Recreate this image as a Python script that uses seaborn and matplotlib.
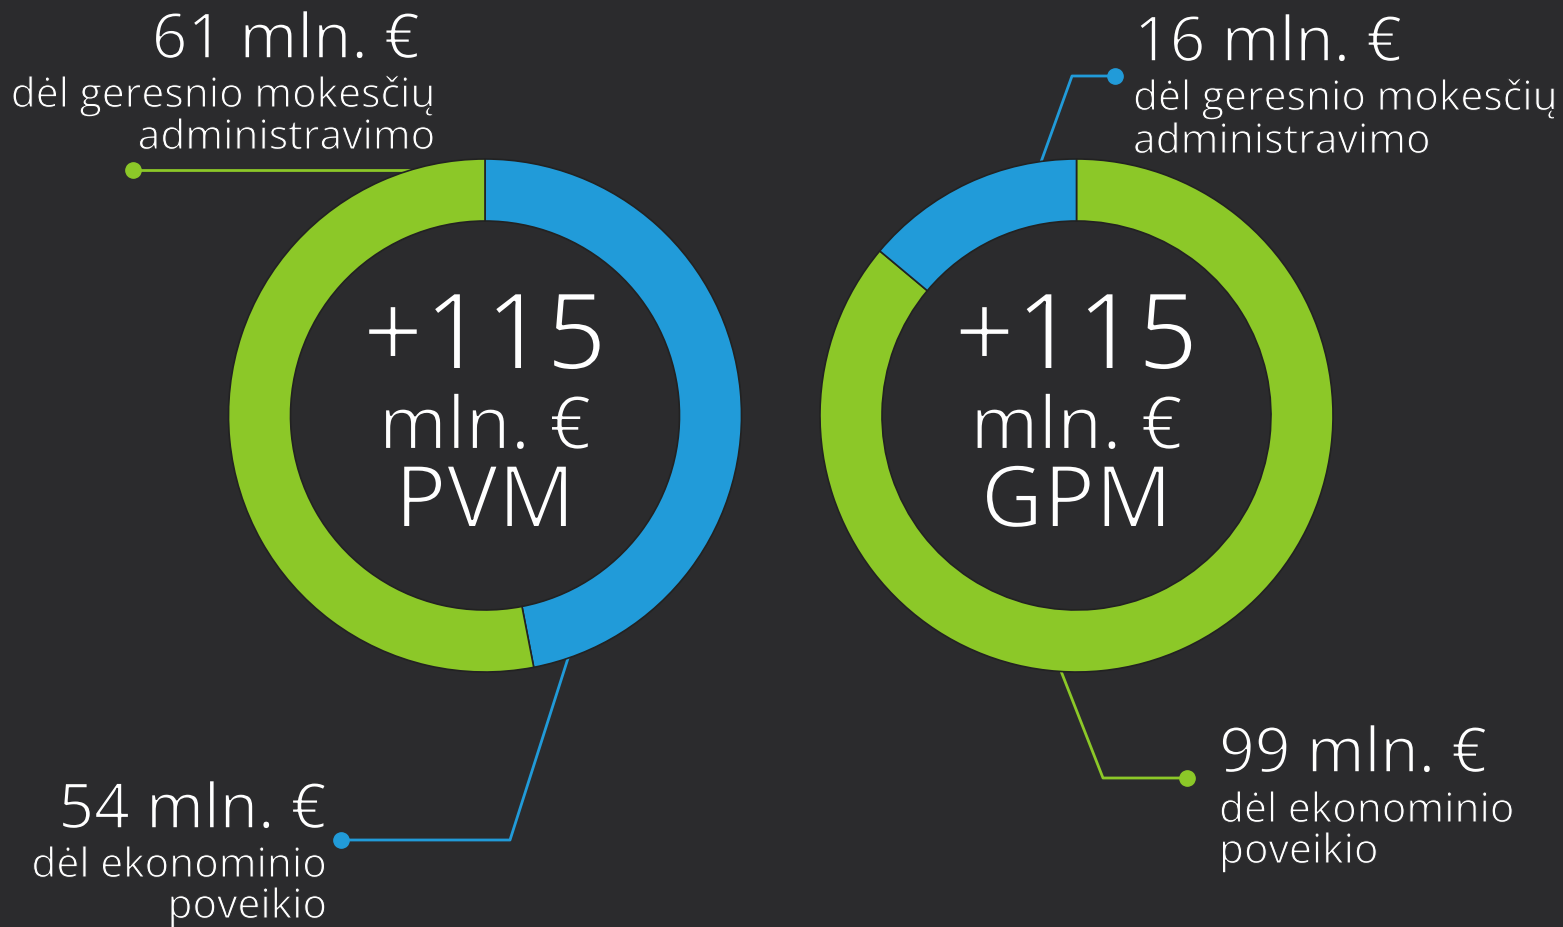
import matplotlib
matplotlib.use('Agg')
import matplotlib.pyplot as plt
import matplotlib.patheffects as pe
import seaborn as sns

# data
taxes = ['PVM', 'GPM']
totals = [115, 115]
admin_part = [61, 16]      # dėl geresnio mokesčių administravimo
econ_part = [54, 99]       # dėl ekonominio poveikio
admin_label = ['dėl geresnio mokesčių', 'administravimo']
econ_label = ['dėl ekonominio', 'poveikio']

BG = '#2b2b2d'
GREEN = '#8cc828'
BLUE = '#219bd9'

sns.set_style('dark', {'axes.facecolor': BG, 'figure.facecolor': BG})
plt.rcParams['font.family'] = ['Open Sans', 'DejaVu Sans']

W, H = 1563, 927
fig = plt.figure(figsize=(W / 100, H / 100), dpi=100)
fig.patch.set_facecolor(BG)

def thin(size):
    # eat into the glyph edges with bg colour -> lighter looking weight
    return [pe.Stroke(linewidth=0.025 * size, foreground=BG)]

# overlay in pixel coords for leader lines + labels
ov = fig.add_axes([0, 0, 1, 1], zorder=0)
ov.set_xlim(0, W)
ov.set_ylim(H, 0)
ov.axis('off')
ov.patch.set_alpha(0)

R = 256.5
centers = [(485, 415.5), (1076.5, 415.5)]
ring_w = 62 / R

def px_axes(cx, cy):
    return fig.add_axes([(cx - R) / W, 1 - (cy + R) / H, 2 * R / W, 2 * R / H], zorder=1)

# left donut: PVM, blue (economic) clockwise from top
ax1 = px_axes(*centers[0])
ax1.pie([econ_part[0], admin_part[0]], colors=[BLUE, GREEN], startangle=90, counterclock=False,
        radius=1, wedgeprops=dict(width=ring_w, edgecolor='#222222', linewidth=1.2))
# right donut: GPM, green (economic) clockwise from top
ax2 = px_axes(*centers[1])
ax2.pie([econ_part[1], admin_part[1]], colors=[GREEN, BLUE], startangle=90, counterclock=False,
        radius=1, wedgeprops=dict(width=ring_w, edgecolor='#222222', linewidth=1.2))

for ax, tax, tot in zip([ax1, ax2], taxes, totals):
    ax.set_xlim(-1, 1)
    ax.set_ylim(-1, 1)
    ax.set_aspect('auto')
    ax.axis('off')
    ax.patch.set_alpha(0)
    ax.text(0, 0.18, f'+{tot}', ha='center', va='baseline', color='white', fontsize=77,
            path_effects=thin(77))
    ax.text(0, -0.13, 'mln. €', ha='center', va='baseline', color='white', fontsize=53,
            path_effects=thin(53))
    ax.text(0, -0.435, tax, ha='center', va='baseline', color='white', fontsize=62,
            path_effects=thin(62))

# leader lines
lw = 2.0
ov.plot([133, 430], [170, 170], color=GREEN, lw=lw, solid_capstyle='butt')
ov.plot([133], [170], 'o', color=GREEN, ms=11)
ov.plot([570, 510, 341], [652, 840, 840], color=BLUE, lw=lw)
ov.plot([341], [840], 'o', color=BLUE, ms=11)
ov.plot([1041, 1072, 1115], [162, 76, 76], color=BLUE, lw=lw)
ov.plot([1115], [76], 'o', color=BLUE, ms=11)
ov.plot([1059, 1103, 1187], [666, 778, 778], color=GREEN, lw=lw)
ov.plot([1187], [778], 'o', color=GREEN, ms=11)

big = 45
small = 29.4
kb = dict(color='white', va='baseline', fontsize=big, path_effects=thin(big))
ks = dict(color='white', va='baseline', fontsize=small, path_effects=thin(small))
# left top
ov.text(420, 58, f'{admin_part[0]} mln. €', ha='right', **kb)
ov.text(436, 107, admin_label[0], ha='right', **ks)
ov.text(436, 149, admin_label[1], ha='right', **ks)
# left bottom
ov.text(327, 828, f'{econ_part[0]} mln. €', ha='right', **kb)
ov.text(327, 877, econ_label[0], ha='right', **ks)
ov.text(327, 918, econ_label[1], ha='right', **ks)
# right top
ov.text(1134, 61, f'{admin_part[1]} mln. €', ha='left', **kb)
ov.text(1133, 110, admin_label[0], ha='left', **ks)
ov.text(1133, 153, admin_label[1], ha='left', **ks)
# right bottom
ov.text(1219, 772, f'{econ_part[1]} mln. €', ha='left', **kb)
ov.text(1219, 822, econ_label[0], ha='left', **ks)
ov.text(1219, 863, econ_label[1], ha='left', **ks)

plt.savefig('out.png', dpi=100, facecolor=BG)
